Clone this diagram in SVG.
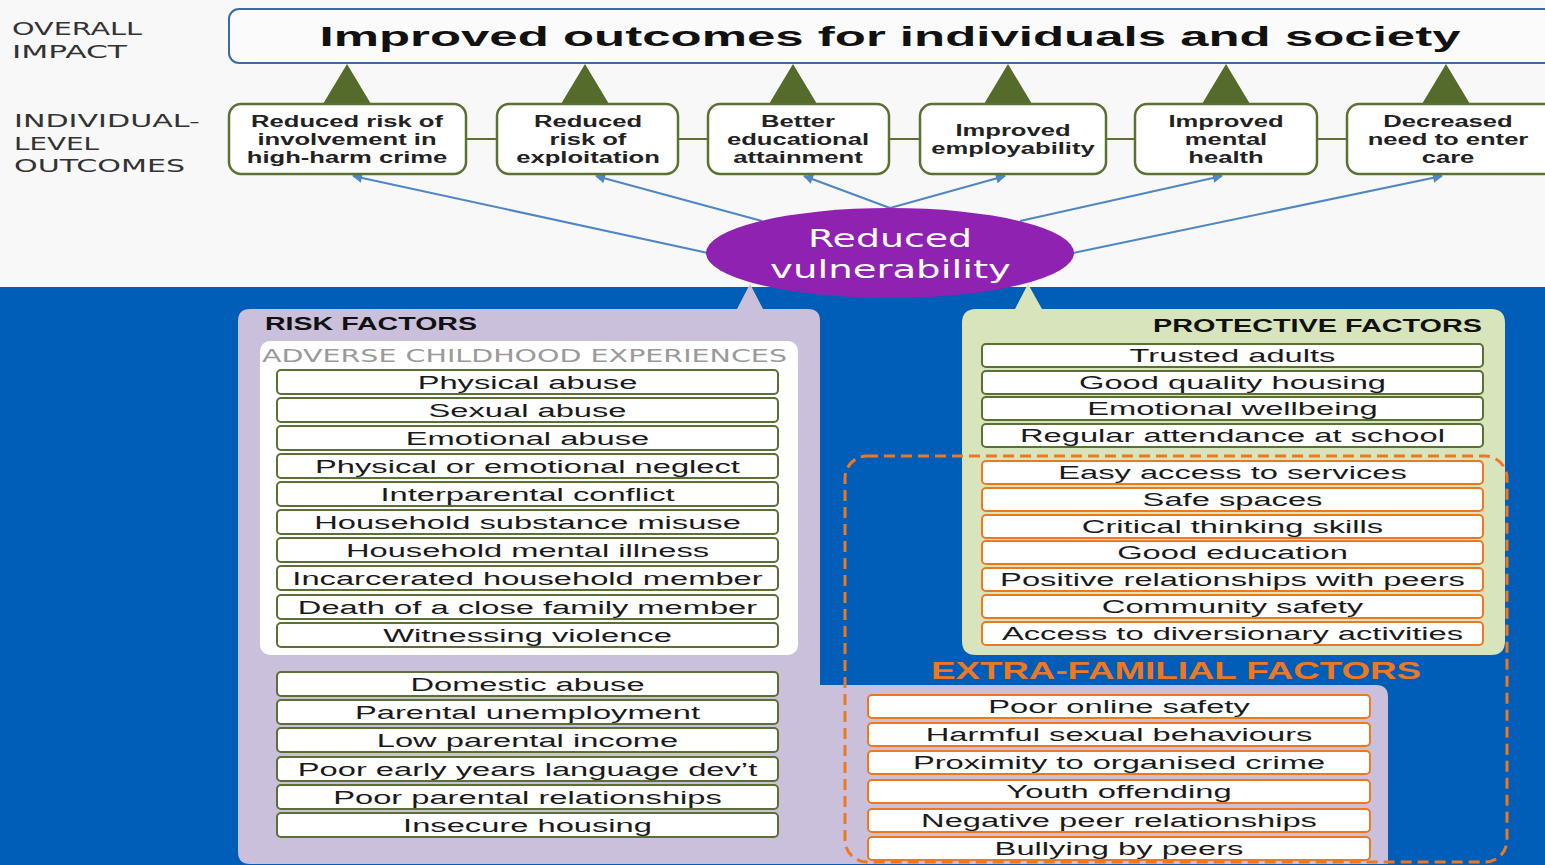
<svg xmlns="http://www.w3.org/2000/svg" width="1545" height="865" viewBox="0 0 1545 865">
<style>
.lbl{font-family:"DejaVu Sans","Liberation Sans",sans-serif;font-size:18px;fill:#333}
.title{font-family:"Liberation Sans",Arial,sans-serif;font-weight:bold;font-size:28px;fill:#111;text-anchor:middle}
.oc{font-family:"Liberation Sans",Arial,sans-serif;font-weight:bold;font-size:16px;fill:#222;text-anchor:middle}
.it{font-family:"Liberation Sans",Arial,sans-serif;font-size:19px;fill:#1a1a1a;text-anchor:middle}
.hd{font-family:"Liberation Sans",Arial,sans-serif;font-weight:bold;font-size:19px;fill:#111}
.ace{font-family:"DejaVu Sans","Liberation Sans",sans-serif;font-size:18px;fill:#9a9a9a}
.ef{font-family:"Liberation Sans",Arial,sans-serif;font-weight:bold;font-size:24px;fill:#ee7722}
.ell{font-family:"DejaVu Sans","Liberation Sans",sans-serif;font-size:25px;fill:#fff}
.obox{fill:#fff;stroke:#5b7133;stroke-width:2.5}
.gb{fill:#fff;stroke:#5b7133;stroke-width:2}
.ob{fill:#fff;stroke:#ee7722;stroke-width:2}
.tri{fill:#546b2b}
.arr{stroke:#4f86c6;stroke-width:2;fill:none;marker-end:url(#ah)}
.hl{stroke:#5b7133;stroke-width:2}
</style>
<defs>
<marker id="ah" viewBox="0 0 10 10" refX="9" refY="5" markerWidth="13" markerHeight="10" markerUnits="userSpaceOnUse" orient="auto">
<path d="M0,0 L10,5 L0,10 z" fill="#4f86c6"/>
</marker>
</defs>
<rect x="0" y="0" width="1545" height="287" fill="#f8f8f8"/>
<rect x="0" y="287" width="1545" height="578" fill="#005eb8"/>

<g id="labels">
<text class="lbl" x="12" y="35" textLength="130" lengthAdjust="spacingAndGlyphs">OVERALL</text>
<text class="lbl" x="12" y="58" textLength="115" lengthAdjust="spacingAndGlyphs">IMPACT</text>
<text class="lbl" x="14" y="127" textLength="186" lengthAdjust="spacingAndGlyphs">INDIVIDUAL-</text>
<text class="lbl" x="14" y="150" textLength="85" lengthAdjust="spacingAndGlyphs">LEVEL</text>
<text class="lbl" x="14" y="172" textLength="171" lengthAdjust="spacingAndGlyphs">OUTCOMES</text>
</g>

<g id="impact">
<rect x="229" y="9" width="1340" height="54" rx="10" fill="#fbfbfb" stroke="#3b6ba5" stroke-width="2"/>
<text class="title" transform="translate(890 46) scale(1.82 1)">Improved outcomes for individuals and society</text>
</g>

<g id="connectors">
<polygon class="tri" points="347,64 323,104 371,104"/>
<polygon class="tri" points="585,64 561,104 609,104"/>
<polygon class="tri" points="793,64 769,104 817,104"/>
<polygon class="tri" points="1008,64 984,104 1032,104"/>
<polygon class="tri" points="1226,64 1202,104 1250,104"/>
<polygon class="tri" points="1446,64 1422,104 1470,104"/>
<line class="hl" x1="466" y1="139" x2="497" y2="139"/>
<line class="hl" x1="678" y1="139" x2="708" y2="139"/>
<line class="hl" x1="889" y1="139" x2="920" y2="139"/>
<line class="hl" x1="1106" y1="139" x2="1135" y2="139"/>
<line class="hl" x1="1317" y1="139" x2="1347" y2="139"/>
<line class="arr" x1="708" y1="253" x2="353" y2="176"/>
<line class="arr" x1="762" y1="221" x2="596" y2="176"/>
<line class="arr" x1="890" y1="208" x2="804" y2="176"/>
<line class="arr" x1="890" y1="208" x2="1005" y2="176"/>
<line class="arr" x1="1020" y1="221" x2="1222" y2="176"/>
<line class="arr" x1="1073" y1="253" x2="1442" y2="176"/>
</g>

<g id="out1"><rect class="obox" x="229" y="104" width="237" height="70" rx="12"/>
<text class="oc" transform="translate(347 127) scale(1.6 1)">Reduced risk of</text>
<text class="oc" transform="translate(347 145) scale(1.6 1)">involvement in</text>
<text class="oc" transform="translate(347 163) scale(1.6 1)">high-harm crime</text></g>
<g id="out2"><rect class="obox" x="497" y="104" width="181" height="70" rx="12"/>
<text class="oc" transform="translate(588 127) scale(1.6 1)">Reduced</text>
<text class="oc" transform="translate(588 145) scale(1.6 1)">risk of</text>
<text class="oc" transform="translate(588 163) scale(1.6 1)">exploitation</text></g>
<g id="out3"><rect class="obox" x="708" y="104" width="181" height="70" rx="12"/>
<text class="oc" transform="translate(798 127) scale(1.6 1)">Better</text>
<text class="oc" transform="translate(798 145) scale(1.6 1)">educational</text>
<text class="oc" transform="translate(798 163) scale(1.6 1)">attainment</text></g>
<g id="out4"><rect class="obox" x="920" y="104" width="186" height="70" rx="12"/>
<text class="oc" transform="translate(1013 136) scale(1.6 1)">Improved</text>
<text class="oc" transform="translate(1013 154) scale(1.6 1)">employability</text></g>
<g id="out5"><rect class="obox" x="1135" y="104" width="182" height="70" rx="12"/>
<text class="oc" transform="translate(1226 127) scale(1.6 1)">Improved</text>
<text class="oc" transform="translate(1226 145) scale(1.6 1)">mental</text>
<text class="oc" transform="translate(1226 163) scale(1.6 1)">health</text></g>
<g id="out6"><rect class="obox" x="1347" y="104" width="220" height="70" rx="12"/>
<text class="oc" transform="translate(1448 127) scale(1.6 1)">Decreased</text>
<text class="oc" transform="translate(1448 145) scale(1.6 1)">need to enter</text>
<text class="oc" transform="translate(1448 163) scale(1.6 1)">care</text></g>

<g id="risk">
<path d="M250,309 L737,309 L750,284 L763,309 L808,309 Q820,309 820,321 L820,685 L1376,685 Q1388,685 1388,697 L1388,864 L250,864 Q238,864 238,852 L238,321 Q238,309 250,309 Z" fill="#cbc0dc"/>
<text class="hd" x="265" y="330" textLength="212" lengthAdjust="spacingAndGlyphs">RISK FACTORS</text>
<rect x="260" y="341" width="538" height="314" rx="10" fill="#fff"/>
<text class="ace" x="262" y="362" textLength="525" lengthAdjust="spacingAndGlyphs">ADVERSE CHILDHOOD EXPERIENCES</text>
<rect class="gb" x="277" y="370" width="501" height="24" rx="4"/><text class="it" transform="translate(527.5 389) scale(1.72 1)">Physical abuse</text>
<rect class="gb" x="277" y="398" width="501" height="24" rx="4"/><text class="it" transform="translate(527.5 417) scale(1.72 1)">Sexual abuse</text>
<rect class="gb" x="277" y="426" width="501" height="24" rx="4"/><text class="it" transform="translate(527.5 445) scale(1.72 1)">Emotional abuse</text>
<rect class="gb" x="277" y="454" width="501" height="24" rx="4"/><text class="it" transform="translate(527.5 473) scale(1.72 1)">Physical or emotional neglect</text>
<rect class="gb" x="277" y="482" width="501" height="24" rx="4"/><text class="it" transform="translate(527.5 501) scale(1.72 1)">Interparental conflict</text>
<rect class="gb" x="277" y="510" width="501" height="24" rx="4"/><text class="it" transform="translate(527.5 529) scale(1.72 1)">Household substance misuse</text>
<rect class="gb" x="277" y="538" width="501" height="24" rx="4"/><text class="it" transform="translate(527.5 557) scale(1.72 1)">Household mental illness</text>
<rect class="gb" x="277" y="566" width="501" height="24" rx="4"/><text class="it" transform="translate(527.5 585) scale(1.72 1)">Incarcerated household member</text>
<rect class="gb" x="277" y="595" width="501" height="24" rx="4"/><text class="it" transform="translate(527.5 614) scale(1.72 1)">Death of a close family member</text>
<rect class="gb" x="277" y="623" width="501" height="24" rx="4"/><text class="it" transform="translate(527.5 642) scale(1.72 1)">Witnessing violence</text>
<rect class="gb" x="277" y="672" width="501" height="24" rx="4"/><text class="it" transform="translate(527.5 691) scale(1.72 1)">Domestic abuse</text>
<rect class="gb" x="277" y="700" width="501" height="24" rx="4"/><text class="it" transform="translate(527.5 719) scale(1.72 1)">Parental unemployment</text>
<rect class="gb" x="277" y="728" width="501" height="24" rx="4"/><text class="it" transform="translate(527.5 747) scale(1.72 1)">Low parental income</text>
<rect class="gb" x="277" y="757" width="501" height="24" rx="4"/><text class="it" transform="translate(527.5 776) scale(1.72 1)">Poor early years language dev’t</text>
<rect class="gb" x="277" y="785" width="501" height="24" rx="4"/><text class="it" transform="translate(527.5 804) scale(1.72 1)">Poor parental relationships</text>
<rect class="gb" x="277" y="813" width="501" height="24" rx="4"/><text class="it" transform="translate(527.5 832) scale(1.72 1)">Insecure housing</text>
</g>

<g id="protective">
<path d="M976,309 L1015,309 L1028,284 L1042,309 L1491,309 Q1505,309 1505,323 L1505,641 Q1505,655 1491,655 L976,655 Q962,655 962,641 L962,323 Q962,309 976,309 Z" fill="#d8e4bc"/>
<text class="hd" x="1153" y="332" textLength="329" lengthAdjust="spacingAndGlyphs">PROTECTIVE FACTORS</text>
<rect class="gb" x="982" y="344" width="501" height="23" rx="4"/><text class="it" transform="translate(1232.5 362) scale(1.72 1)">Trusted adults</text>
<rect class="gb" x="982" y="371" width="501" height="23" rx="4"/><text class="it" transform="translate(1232.5 389) scale(1.72 1)">Good quality housing</text>
<rect class="gb" x="982" y="397" width="501" height="23" rx="4"/><text class="it" transform="translate(1232.5 415) scale(1.72 1)">Emotional wellbeing</text>
<rect class="gb" x="982" y="424" width="501" height="23" rx="4"/><text class="it" transform="translate(1232.5 442) scale(1.72 1)">Regular attendance at school</text>
<rect class="ob" x="982" y="461" width="501" height="23" rx="4"/><text class="it" transform="translate(1232.5 479) scale(1.72 1)">Easy access to services</text>
<rect class="ob" x="982" y="488" width="501" height="23" rx="4"/><text class="it" transform="translate(1232.5 506) scale(1.72 1)">Safe spaces</text>
<rect class="ob" x="982" y="515" width="501" height="23" rx="4"/><text class="it" transform="translate(1232.5 533) scale(1.72 1)">Critical thinking skills</text>
<rect class="ob" x="982" y="541" width="501" height="23" rx="4"/><text class="it" transform="translate(1232.5 559) scale(1.72 1)">Good education</text>
<rect class="ob" x="982" y="568" width="501" height="23" rx="4"/><text class="it" transform="translate(1232.5 586) scale(1.72 1)">Positive relationships with peers</text>
<rect class="ob" x="982" y="595" width="501" height="23" rx="4"/><text class="it" transform="translate(1232.5 613) scale(1.72 1)">Community safety</text>
<rect class="ob" x="982" y="622" width="501" height="23" rx="4"/><text class="it" transform="translate(1232.5 640) scale(1.72 1)">Access to diversionary activities</text>
</g>

<g id="extrafamilial">
<rect x="845" y="456" width="662" height="406" rx="22" fill="none" stroke="#ee7722" stroke-width="3" stroke-dasharray="11 6"/>
<text class="ef" x="931" y="679" textLength="490" lengthAdjust="spacingAndGlyphs">EXTRA-FAMILIAL FACTORS</text>
<rect class="ob" x="868" y="695" width="502" height="23" rx="4"/><text class="it" transform="translate(1119 713) scale(1.72 1)">Poor online safety</text>
<rect class="ob" x="868" y="723" width="502" height="23" rx="4"/><text class="it" transform="translate(1119 741) scale(1.72 1)">Harmful sexual behaviours</text>
<rect class="ob" x="868" y="751" width="502" height="23" rx="4"/><text class="it" transform="translate(1119 769) scale(1.72 1)">Proximity to organised crime</text>
<rect class="ob" x="868" y="780" width="502" height="23" rx="4"/><text class="it" transform="translate(1119 798) scale(1.72 1)">Youth offending</text>
<rect class="ob" x="868" y="809" width="502" height="23" rx="4"/><text class="it" transform="translate(1119 827) scale(1.72 1)">Negative peer relationships</text>
<rect class="ob" x="868" y="837" width="502" height="23" rx="4"/><text class="it" transform="translate(1119 855) scale(1.72 1)">Bullying by peers</text>
</g>

<g id="vulnerability">
<ellipse cx="890" cy="253" rx="184" ry="45" fill="#8f22b1"/>
<text class="ell" x="808" y="247" textLength="164" lengthAdjust="spacingAndGlyphs">Reduced</text>
<text class="ell" x="770" y="278" textLength="241" lengthAdjust="spacingAndGlyphs">vulnerability</text>
</g>
</svg>
